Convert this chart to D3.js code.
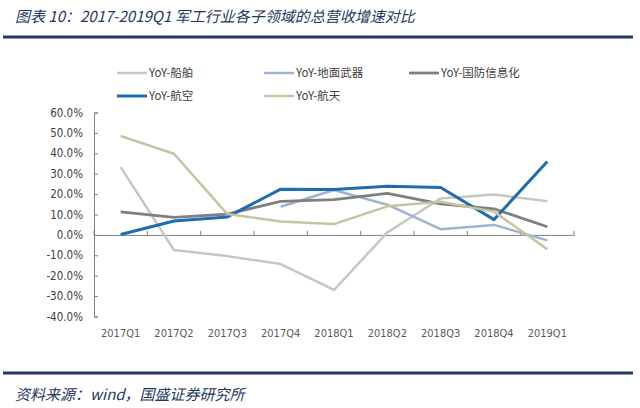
<!DOCTYPE html>
<html><head><meta charset="utf-8">
<script src="https://cdn.jsdelivr.net/npm/d3@7"></script>
<style>
html,body{margin:0;padding:0;background:#fff;}
svg{display:block;}
</style></head>
<body>
<svg id="chart" width="640" height="408"></svg>
<script>
const categories = ["2017Q1","2017Q2","2017Q3","2017Q4","2018Q1","2018Q2","2018Q3","2018Q4","2019Q1"];
const seriesNames = ["YoY-船舶","YoY-地面武器","YoY-国防信息化","YoY-航空","YoY-航天"];
const chuanbo   = [33.2, -7.4, -10.4, -14.3, -27.0, 1.2, 17.9, 19.8, 16.5];
const dimian    = [null, null, null, 13.8, 22.0, 14.8, 2.8, 4.9, -2.7];
const guofang   = [11.3, 8.6, 10.2, 16.4, 17.3, 20.4, 15.2, 12.8, 4.0];
const hangkong  = [0.2, 6.8, 8.8, 22.4, 22.2, 23.8, 23.2, 7.5, 36.0];
const hangtian  = [48.5, 39.8, 10.2, 6.6, 5.3, 14.0, 16.2, 11.4, -7.0];
const yTicks = [-40,-30,-20,-10,0,10,20,30,40,50,60];
const titleText = "图表 10：2017-2019Q1 军工行业各子领域的总营收增速对比";
const sourceText = "资料来源：wind，国盛证券研究所";

const colors = ["#c6c6c6","#9db4d4","#7f7f7f","#1f6db1","#c8c4a0"];
const widths = [2.5,2.5,2.8,3,2.5];
const data = [chuanbo, dimian, guofang, hangkong, hangtian];

const svg = d3.select("#chart");
const numFont = "'DejaVu Sans Condensed','DejaVu Sans',sans-serif";
const cjkFont = "'Noto Sans CJK SC','DejaVu Sans',sans-serif";

// Title
svg.append("text").attr("x",15).attr("y",22)
  .attr("font-family",cjkFont).attr("font-size",15).attr("font-style","italic")
  .attr("fill","#1f3864").text(titleText);
svg.append("line").attr("x1",3).attr("x2",633).attr("y1",37).attr("y2",37)
  .attr("stroke","#1f3864").attr("stroke-width",3);

// Footer
svg.append("line").attr("x1",3).attr("x2",633).attr("y1",373).attr("y2",373)
  .attr("stroke","#1f3864").attr("stroke-width",3);
svg.append("text").attr("x",15).attr("y",400)
  .attr("font-family",cjkFont).attr("font-size",15).attr("font-style","italic")
  .attr("fill","#1f3864").text(sourceText);

// Scales
const x = d3.scaleBand().domain(categories).range([94, 574]).padding(0);
const y = d3.scaleLinear().domain([-40, 60]).range([316.5, 112.5]);
const cx = c => x(c) + x.bandwidth()/2;

// Y axis
const yAxis = svg.append("g").attr("transform","translate(94,0)")
  .call(d3.axisLeft(y).tickValues(yTicks).tickSize(-4).tickPadding(11)
    .tickFormat(d => d.toFixed(1) + "%"));
yAxis.select(".domain").attr("stroke","#808080");
yAxis.selectAll(".tick line").attr("stroke","#808080");
yAxis.selectAll("text").attr("font-family",numFont).attr("font-size",11.5).attr("fill","#404040");

// X axis at zero
const xAxis = svg.append("g").attr("transform",`translate(0,${y(0)})`)
  .call(d3.axisBottom(x).tickSize(0).tickFormat(""));
xAxis.select(".domain").attr("stroke","#808080");
xAxis.selectAll(".tick").remove();
const bounds = categories.map(c => x(c)).concat([x(categories[categories.length-1]) + x.bandwidth()]);
svg.append("g").selectAll("line").data(bounds).join("line")
  .attr("x1",d=>d).attr("x2",d=>d).attr("y1",y(0)).attr("y2",y(0)-4)
  .attr("stroke","#808080");
// category labels at bottom
svg.append("g").selectAll("text").data(categories).join("text")
  .attr("x",d=>cx(d)).attr("y",337).attr("text-anchor","middle")
  .attr("font-family",numFont).attr("font-size",11).attr("fill","#595959")
  .text(d=>d);

// Lines
const line = d3.line().defined(d => d.v !== null).x(d => cx(d.c)).y(d => y(d.v));
data.forEach((arr,i) => {
  svg.append("path")
    .datum(categories.map((c,j)=>({c, v: arr[j]})))
    .attr("fill","none").attr("stroke",colors[i]).attr("stroke-width",widths[i])
    .attr("stroke-linejoin","round")
    .attr("d", line);
});

// Legend
const legPos = [[117,73],[264,73],[409,73],[117,96],[264,96]];
seriesNames.forEach((n,i) => {
  const [lx,ly] = legPos[i];
  svg.append("line").attr("x1",lx).attr("x2",lx+30).attr("y1",ly).attr("y2",ly)
    .attr("stroke",colors[i]).attr("stroke-width",widths[i]);
  svg.append("text").attr("x",lx+32).attr("y",ly+4)
    .attr("font-family",cjkFont).attr("font-size",11.5).attr("fill","#404040").text(n);
});
</script>
</body></html>
